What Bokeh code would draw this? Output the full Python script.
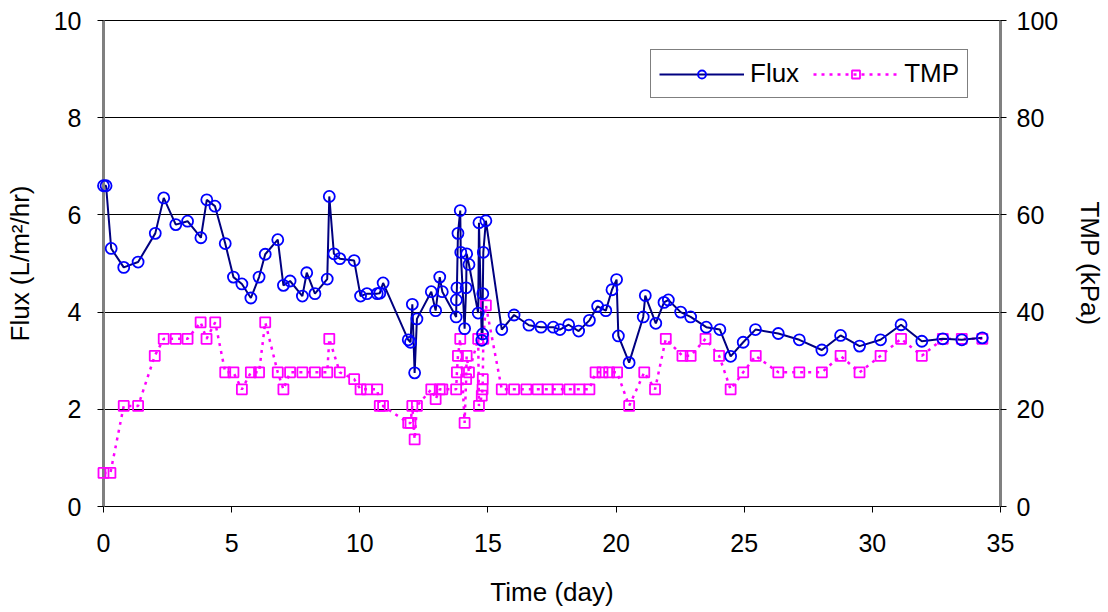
from bokeh.plotting import figure
from bokeh.models import Range1d, LinearAxis, FixedTicker, Legend, LegendItem
from bokeh.embed import file_html
from bokeh.resources import INLINE

# ---- data ----
flux_time = [0.0, 0.1, 0.3, 0.79, 1.35, 2.02, 2.35, 2.82, 3.28, 3.8, 4.03, 4.35,
             4.75, 5.07, 5.4, 5.75, 6.07, 6.31, 6.8, 7.02, 7.28, 7.76, 7.93, 8.25,
             8.73, 8.81, 8.99, 9.22, 9.78, 10.03, 10.28, 10.68, 10.78, 10.91, 11.89,
             11.98, 12.05, 12.14, 12.23, 12.79, 12.96, 13.12, 13.22, 13.76, 13.77,
             13.79, 13.83, 13.92, 13.94, 14.09, 14.15, 14.17, 14.26, 14.62, 14.65,
             14.76, 14.79, 14.8, 14.82, 14.92, 15.54, 16.02, 16.6, 17.07, 17.55,
             17.81, 18.15, 18.54, 18.96, 19.28, 19.6, 19.84, 20.02, 20.09, 20.51,
             21.06, 21.14, 21.55, 21.87, 22.04, 22.52, 22.91, 23.52, 24.05, 24.47,
             24.96, 25.44, 26.33, 27.15, 28.03, 28.76, 29.5, 30.32, 31.12, 31.93,
             32.75, 33.49, 34.29]
flux_value = [6.6, 6.6, 5.31, 4.92, 5.03, 5.62, 6.35, 5.8, 5.87, 5.53, 6.31, 6.18,
              5.41, 4.72, 4.58, 4.29, 4.72, 5.19, 5.49, 4.55, 4.64, 4.33, 4.81, 4.38,
              4.68, 6.38, 5.2, 5.1, 5.06, 4.33, 4.38, 4.38, 4.39, 4.6, 3.43,
              3.38, 4.16, 2.75, 3.86, 4.42, 4.03, 4.72, 4.42, 3.9, 4.25,
              4.5, 5.62, 6.09, 5.23, 3.66, 4.5, 5.2, 4.98, 3.98, 5.84,
              3.42, 3.55, 4.38, 5.23, 5.88, 3.64, 3.94, 3.73, 3.69, 3.69,
              3.64, 3.74, 3.61, 3.83, 4.12, 4.03, 4.46, 4.67, 3.51, 2.96,
              3.9, 4.34, 3.77, 4.2, 4.25, 4.0, 3.9, 3.69, 3.64, 3.09,
              3.38, 3.64, 3.56, 3.43, 3.22, 3.52, 3.3, 3.43, 3.74, 3.4,
              3.45, 3.43, 3.47]

tmp_time = [0.0, 0.27, 0.79, 1.35, 2.0, 2.35, 2.82, 3.28, 3.79, 4.02, 4.36, 4.75,
            5.07, 5.4, 5.75, 6.07, 6.31, 6.8, 7.02, 7.28, 7.76, 8.25, 8.73, 8.81,
            9.22, 9.78, 10.03, 10.28, 10.68, 10.78, 10.91, 11.89, 11.98, 12.05,
            12.14, 12.23, 12.79, 12.96, 13.12, 13.22, 13.76, 13.79, 13.83, 13.92,
            14.09, 14.15, 14.17, 14.26, 14.62, 14.65, 14.76, 14.79, 14.8, 14.82,
            14.92, 15.54, 16.02, 16.5, 16.94, 17.33, 17.72, 18.18, 18.57, 18.96,
            19.2, 19.47, 19.73, 20.04, 20.51, 21.1, 21.52, 21.94, 22.59, 22.91,
            23.49, 24.02, 24.47, 24.96, 25.45, 26.33, 27.15, 28.03, 28.76, 29.5,
            30.32, 31.12, 31.93, 32.75, 33.49, 34.29]
tmp_value = [6.9, 6.9, 20.7, 20.7, 31.0, 34.5, 34.5, 34.5, 37.9, 34.5, 37.9, 27.6,
             27.6, 24.1, 27.6, 27.6, 37.9, 27.6, 24.1, 27.6, 27.6, 27.6, 27.6, 34.5,
             27.6, 26.2, 24.1, 24.1, 24.1, 20.7, 20.7, 17.2, 17.2, 20.7,
             13.8, 20.7, 24.1, 22.1, 24.1, 24.1, 24.1, 27.6, 31.0, 34.5,
             17.2, 26.2, 31.0, 27.6, 34.5, 20.7, 22.8, 24.1, 26.2, 34.5,
             41.4, 24.1, 24.1, 24.1, 24.1, 24.1, 24.1, 24.1, 24.1, 24.1,
             27.6, 27.6, 27.6, 27.6, 20.7, 27.6, 24.1, 34.5, 31.0, 31.0,
             34.5, 31.0, 24.1, 27.6, 31.0, 27.6, 27.6, 27.6, 31.0, 27.6,
             31.0, 34.5, 31.0, 34.5, 34.5, 34.5]

x_ticks = [0, 5, 10, 15, 20, 25, 30, 35]
flux_ticks = [0, 2, 4, 6, 8, 10]
tmp_ticks = [0, 20, 40, 60, 80, 100]

FONT = "Liberation Sans"
FS = "25px"

p = figure(width=1108, height=612, output_backend="svg", toolbar_location=None,
           x_range=Range1d(0, 35), y_range=Range1d(0, 10),
           min_border_left=103, min_border_right=107, min_border_top=20,
           min_border_bottom=106, background_fill_color="white",
           border_fill_color="white")
p.extra_y_ranges = {"tmp": Range1d(0, 100)}
p.outline_line_color = "black"
p.outline_line_width = 1

p.xgrid.visible = False
p.ygrid.ticker = FixedTicker(ticks=flux_ticks)
p.ygrid.grid_line_color = "black"
p.ygrid.grid_line_width = 1

right = LinearAxis(y_range_name="tmp", axis_label="TMP (kPa)")
p.add_layout(right, "right")

p.xaxis.ticker = FixedTicker(ticks=x_ticks)
p.xaxis.axis_label = "Time (day)"
p.yaxis[0].ticker = FixedTicker(ticks=flux_ticks)
p.yaxis[0].axis_label = "Flux (L/m\u00b2/hr)"
right.ticker = FixedTicker(ticks=tmp_ticks)

for ax in [p.xaxis[0], p.yaxis[0], right]:
    ax.major_tick_out = 6
    ax.major_tick_in = 0
    ax.minor_tick_out = 0
    ax.minor_tick_in = 0
    ax.major_tick_line_color = "black"
    ax.major_label_text_font = FONT
    ax.major_label_text_font_size = FS
    ax.major_label_text_color = "black"
    ax.axis_label_text_font = FONT
    ax.axis_label_text_font_size = "26px"
    ax.axis_label_text_font_style = "normal"
    ax.axis_label_text_color = "black"

p.xaxis[0].axis_line_color = "black"
p.xaxis[0].major_label_standoff = 21
p.xaxis[0].axis_label_standoff = 22
p.yaxis[0].axis_line_color = "#808080"
p.yaxis[0].axis_line_width = 3
p.yaxis[0].major_label_standoff = 16
p.yaxis[0].axis_label_standoff = 16
right.axis_line_color = "#808080"
right.axis_line_width = 3
right.major_label_standoff = 10
right.axis_label_standoff = 14

# TMP series
tmp_line = p.line(tmp_time, tmp_value, y_range_name="tmp", line_color="#FF00FF",
                  line_width=2.5, line_dash="3 5")
tmp_pts = p.scatter(tmp_time, tmp_value, y_range_name="tmp", marker="square",
                    size=10, line_color="#FF00FF", line_width=1.8, fill_alpha=0,
                    level="overlay")

# Flux series
flux_line = p.line(flux_time, flux_value, line_color="#000080", line_width=2)
flux_pts = p.scatter(flux_time, flux_value, marker="circle", size=11,
                     line_color="#0000FF", line_width=1.8, fill_alpha=0,
                     level="overlay")

legend = Legend(items=[LegendItem(label="Flux", renderers=[flux_line, flux_pts]),
                       LegendItem(label="TMP", renderers=[tmp_line, tmp_pts])],
                orientation="horizontal", location=(547, 408))
legend.border_line_color = "black"
legend.border_line_width = 1
legend.background_fill_color = "white"
legend.background_fill_alpha = 1
legend.glyph_width = 85
legend.glyph_height = 20
legend.label_standoff = 6
legend.spacing = 14
legend.padding = 8
legend.margin = 0
legend.label_text_font = FONT
legend.label_text_font_size = "26px"
legend.label_text_color = "black"
p.add_layout(legend, "center")

open("out.html", "w").write(file_html(p, INLINE))
